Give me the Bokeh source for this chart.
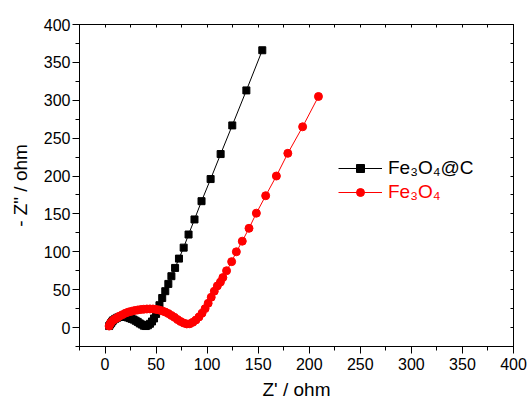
from bokeh.plotting import figure
from bokeh.models import Range1d, LinearAxis, SingleIntervalTicker, FixedTicker, Legend, LegendItem
from bokeh.embed import file_html
from bokeh.resources import INLINE

# Fe3O4@C (black squares)
fec_x = [4, 5, 6, 7, 8, 10, 12, 14, 16, 18, 20, 22, 24, 26, 28, 30, 32, 34, 36, 38, 40,
         42, 44, 46, 48, 50, 51.5, 53.3, 56, 59, 62, 65, 68.6, 72.4, 77, 81.8, 87.6, 94.5,
         103.4, 113.2, 124.6, 138.4, 154]
fec_y = [2, 4, 6, 8, 9.5, 11.5, 13, 14, 14.5, 14.5, 14, 13.5, 12.5, 11.5, 10.5, 9, 7.5, 5.5, 4, 2.5, 2,
         3, 5, 8, 12, 18, 24, 29.5, 39, 48, 57.6, 67.8, 78.7, 91, 105.5, 122.8, 142.7, 166.8,
         196, 229, 266.8, 313, 366]

# Fe3O4 (red circles)
fe_x = [4, 5, 6, 8, 10, 12, 14, 17, 20, 23, 26, 29, 32, 35, 38, 41, 44, 47, 50, 53, 56, 59,
        62, 65, 68, 71, 74, 77, 80, 83, 86, 89, 92, 95, 98, 101, 104, 107, 110, 113, 115.4,
        119, 124, 128.6, 134.4, 141, 148.2, 157.3, 167.8, 179, 193.5, 209]
fe_y = [2, 5, 7, 9.5, 11.5, 13, 15, 17, 19, 20.5, 21.5, 22.5, 23.2, 23.8, 24.2, 24.5, 24.6, 24.5,
        24, 23.2, 22, 20.5, 18.5, 16, 13.5, 10.5, 8, 6, 4.8, 5, 7, 10, 14, 19, 25, 32, 40, 48,
        55, 60, 66, 75, 87, 100, 114, 131, 151, 174, 200, 230, 265, 305]

labels = ["Fe₃O₄@C", "Fe₃O₄"]
x_title = "Z' / ohm"
y_title = '- Z" / ohm'

FONT = "Liberation Sans"

p = figure(width=529, height=403, output_backend="svg", toolbar_location=None,
           x_range=Range1d(-25, 400), y_range=Range1d(-25, 400),
           min_border_left=79, min_border_right=16, min_border_top=24, min_border_bottom=57,
           x_axis_location=None, y_axis_location=None)
p.grid.visible = False
p.outline_line_color = "black"
p.outline_line_width = 1
p.background_fill_color = "white"
p.border_fill_color = "white"


def style_axis(ax):
    ax.ticker = SingleIntervalTicker(interval=50, num_minor_ticks=2)
    ax.axis_line_color = "black"
    ax.major_tick_line_color = "black"
    ax.minor_tick_line_color = "black"
    ax.major_tick_out = 7
    ax.major_tick_in = 0
    ax.minor_tick_out = 4
    ax.minor_tick_in = 0
    ax.major_label_text_font = FONT
    ax.major_label_text_font_size = "16px"
    ax.major_label_text_color = "black"
    ax.axis_label_text_font = FONT
    ax.axis_label_text_font_size = "19px"
    ax.axis_label_text_font_style = "normal"
    ax.axis_label_text_color = "black"


def plain_axis(ax):
    # only small inward tick marks, no labels
    ax.ticker = FixedTicker(ticks=[], minor_ticks=list(range(-25, 401, 25)))
    ax.axis_line_color = "black"
    ax.minor_tick_line_color = "black"
    ax.minor_tick_out = 0
    ax.minor_tick_in = 3
    ax.major_tick_out = 0
    ax.major_tick_in = 0
    ax.major_label_standoff = 0


xb = LinearAxis(axis_label=x_title)
style_axis(xb)
xb.major_label_standoff = 4
xb.axis_label_standoff = 6
p.add_layout(xb, "below")

yl = LinearAxis(axis_label=y_title)
style_axis(yl)
yl.major_label_standoff = 2
yl.axis_label_standoff = 10
p.add_layout(yl, "left")

xt = LinearAxis()
plain_axis(xt)
p.add_layout(xt, "above")
yr = LinearAxis()
plain_axis(yr)
p.add_layout(yr, "right")

l1 = p.line(fec_x, fec_y, line_color="black", line_width=1)
s1 = p.scatter(fec_x, fec_y, marker="square", size=7, fill_color="black", line_color="black")
l2 = p.line(fe_x, fe_y, line_color="red", line_width=1)
s2 = p.scatter(fe_x, fe_y, marker="circle", size=8, fill_color="red", line_color="red")


def make_legend(label, renderers, color, y):
    lg = Legend(items=[LegendItem(label=label, renderers=renderers)], location=(259, y),
                padding=0, margin=0, spacing=0, border_line_alpha=0,
                background_fill_alpha=0, glyph_width=44, glyph_height=20,
                label_height=20, label_standoff=6,
                label_text_font=FONT, label_text_font_size="19px",
                label_text_color=color)
    p.add_layout(lg, "center")


make_legend(labels[0], [l1, s1], "black", 167)
make_legend(labels[1], [l2, s2], "red", 143)

open("out.html", "w").write(file_html(p, INLINE))
